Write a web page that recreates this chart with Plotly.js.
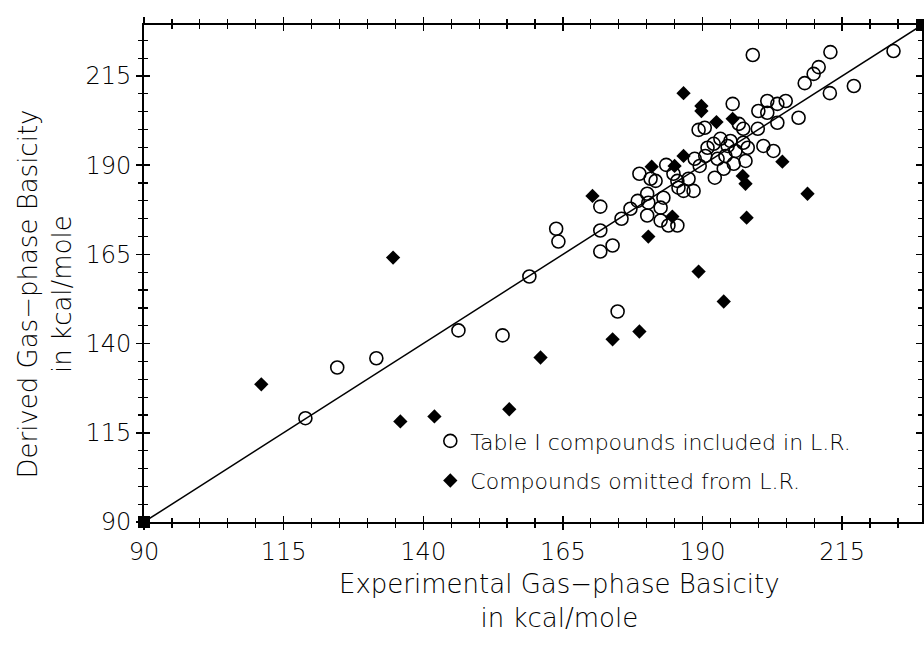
<!DOCTYPE html>
<html>
<head>
<meta charset="utf-8">
<script src="https://cdn.plot.ly/plotly-3.0.1.min.js"></script>
<style>html,body{margin:0;padding:0;background:#fff;}#chart{width:924px;height:647px;}</style>
</head>
<body>
<div id="chart"></div>
<script>
// Table I compounds included in L.R. (experimental, derived)
var includedX = [118.9,124.6,131.6,146.3,154.2,159.0,163.8,164.2,171.7,171.7,173.9,171.7,174.8,175.5,177.1,178.4,178.7,180.1,180.1,180.7,181.6,182.5,183.9,185.5,183.5,184.8,185.5,185.7,183.0,180.3,182.5,186.6,188.4,187.5,188.6,189.3,190.4,190.9,190.5,192.0,193.2,192.2,192.7,193.8,194.5,194.1,195.6,195.4,196.5,197.3,197.3,198.1,199.0,199.9,200.0,200.9,201.6,201.6,202.7,203.4,203.4,204.9,207.2,208.3,209.9,210.8,212.8,212.9,217.1,224.2,195.0,195.9,189.5,197.7];
var includedY = [119.1,133.3,135.9,143.7,142.3,158.8,172.2,168.6,171.7,178.4,167.5,165.8,149.0,175.0,177.8,180.0,187.6,182.0,175.9,186.2,185.6,174.5,173.1,173.1,190.1,187.6,185.6,183.7,180.9,179.5,178.1,182.8,182.8,186.2,191.8,199.9,200.5,194.9,192.6,196.0,197.4,186.5,191.8,189.0,195.4,192.6,190.4,207.2,201.6,200.2,196.3,194.9,220.9,200.2,205.2,195.4,208.0,204.7,194.0,201.9,207.2,208.0,203.3,213.0,215.6,217.5,210.2,221.7,212.2,222.0,196.8,194.0,189.8,191.2];
// Compounds omitted from L.R.
var omittedX = [111.0,134.6,135.9,142.0,155.4,161.0,170.3,173.9,178.7,180.3,180.9,184.6,185.0,186.6,186.6,189.3,189.8,189.8,192.5,193.8,195.4,197.2,197.7,197.9,204.3,208.8];
var omittedY = [128.6,164.1,118.2,119.6,121.6,136.1,181.4,141.2,143.4,170.0,189.6,175.6,189.8,192.6,210.2,160.2,206.6,205.2,202.1,151.8,203.0,187.0,184.8,175.3,191.0,182.0];
// reference line (experimental = derived) across the axis range
var axisRange = [90, 229.3];
var lineX = [90, 229.3];
var lineY = [90, 229.3];
var tickVals = [90,115,140,165,190,215];
var tickText = ['90','115','140','165','190','215'];
var xTitle = 'Experimental Gas\u2212phase Basicity<br>in kcal/mole';
var yTitle = 'Derived Gas\u2212phase Basicity<br>in kcal/mole';

var FONT = 'DejaVu Sans, Liberation Sans, sans-serif';
var W = 200;

var traces = [
  {x: lineX, y: lineY, mode: 'lines+markers', type: 'scatter', showlegend: false,
   line: {color: 'black', width: 1.5}, cliponaxis: false,
   marker: {symbol: 'square', size: 12, color: 'black'}},
  {x: includedX, y: includedY, mode: 'markers', type: 'scatter', name: 'Table I compounds included in L.R.',
   legendgroup: 'a',
   marker: {symbol: 'circle-open', size: 13, color: 'black', line: {width: 1.6}}},
  {x: omittedX, y: omittedY, mode: 'markers', type: 'scatter', name: 'Compounds omitted from L.R.',
   legendgroup: 'b',
   marker: {symbol: 'diamond', size: 11, color: 'black'}},
  {x: [], y: [], xaxis: 'x2', yaxis: 'y2', type: 'scatter', mode: 'markers', showlegend: false}
];

function axisBase(ticksDir, showLabels) {
  return {
    range: axisRange, autorange: false,
    tickmode: 'array', tickvals: tickVals, ticktext: tickText,
    ticks: ticksDir, ticklen: 6, tickwidth: 1.5, tickcolor: 'black',
    minor: {tick0: 90, dtick: 5, ticks: ticksDir, ticklen: 4, tickwidth: 1.2, tickcolor: 'black', showgrid: false},
    showgrid: false, zeroline: false,
    showticklabels: showLabels,
    tickfont: {family: FONT, size: 24, color: 'black', weight: W},
    fixedrange: true
  };
}

var xa = axisBase('outside', true);
xa.showline = true; xa.linecolor = 'black'; xa.linewidth = 2; xa.mirror = 'ticks';
xa.ticklabelstandoff = 1;
var ya = axisBase('outside', true);
ya.showline = true; ya.linecolor = 'black'; ya.linewidth = 2; ya.mirror = 'ticks';

var xa2 = axisBase('inside', false);
xa2.overlaying = 'x'; xa2.anchor = 'y'; xa2.mirror = 'ticks'; xa2.showline = false;
var ya2 = axisBase('inside', false);
ya2.overlaying = 'y'; ya2.anchor = 'x'; ya2.mirror = 'ticks'; ya2.showline = false;

var layout = {
  width: 924, height: 647,
  margin: {l: 144, r: 2, t: 25, b: 125, autoexpand: false},
  paper_bgcolor: 'white', plot_bgcolor: 'white',
  showlegend: true,
  legend: {x: 0.368, y: 0.205, xanchor: 'left', yanchor: 'top',
           font: {family: FONT, size: 22, color: 'black', weight: W},
           bgcolor: 'rgba(0,0,0,0)', traceorder: 'grouped', tracegroupgap: 8},
  xaxis: xa, yaxis: ya, xaxis2: xa2, yaxis2: ya2,
  annotations: [
    {text: xTitle, xref: 'paper', yref: 'paper', x: 0.5347, y: -0.158, xanchor: 'center', yanchor: 'middle',
     showarrow: false, font: {family: FONT, size: 26, color: 'black', weight: W}},
    {text: yTitle, xref: 'paper', yref: 'paper', x: -0.127, y: 0.458, xanchor: 'center', yanchor: 'middle',
     textangle: -90, showarrow: false, font: {family: FONT, size: 26, color: 'black', weight: W}}
  ]
};

Plotly.newPlot('chart', traces, layout, {displayModeBar: false, staticPlot: true});
</script>
</body>
</html>
